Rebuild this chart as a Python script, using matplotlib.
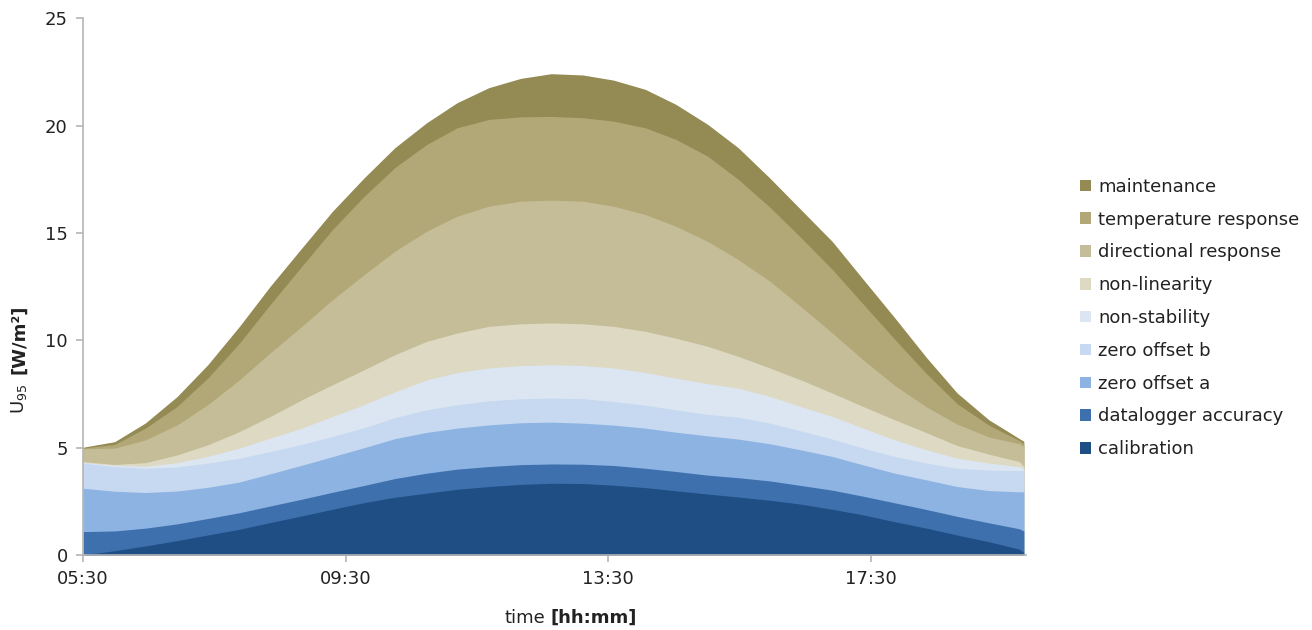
import numpy as np
import matplotlib
matplotlib.use('Agg')
import matplotlib.pyplot as plt
from matplotlib.patches import Patch

plt.rcParams['font.family'] = ['DejaVu Sans']

# sample clock times
clock = ['05:30', '05:59', '06:27', '06:56', '07:24', '07:53', '08:21', '08:50',
         '09:18', '09:47', '10:15', '10:44', '11:12', '11:41', '12:10', '12:38',
         '13:07', '13:35', '14:04', '14:32', '15:01', '15:29', '15:58', '16:26',
         '16:55', '17:23', '17:52', '18:21', '18:49', '19:18', '19:46', '19:50']

# upper edge of each stacked band, W/m2 (cumulative)
top_calibration = [0.0, 0.2, 0.42, 0.67, 0.93, 1.2, 1.51, 1.82, 2.13, 2.44, 2.69, 2.88, 3.06, 3.19, 3.29, 3.34,
                   3.33, 3.25, 3.14, 2.99, 2.84, 2.7, 2.55, 2.37, 2.13, 1.87, 1.55, 1.25, 0.93, 0.62, 0.27, 0.1]
top_datalogger = [1.09, 1.12, 1.25, 1.45, 1.7, 1.97, 2.28, 2.6, 2.92, 3.24, 3.56, 3.81, 4.0, 4.12, 4.21, 4.24,
                  4.23, 4.17, 4.04, 3.89, 3.72, 3.6, 3.45, 3.24, 3.02, 2.74, 2.43, 2.12, 1.8, 1.5, 1.22, 1.12]
top_zero_a = [3.11, 2.97, 2.91, 2.98, 3.15, 3.4, 3.78, 4.18, 4.58, 5.0, 5.42, 5.71, 5.91, 6.06, 6.16, 6.19,
              6.14, 6.05, 5.91, 5.72, 5.55, 5.4, 5.18, 4.9, 4.59, 4.2, 3.81, 3.5, 3.19, 3.0, 2.94, 2.95]
top_zero_b = [4.28, 4.12, 4.04, 4.1, 4.28, 4.51, 4.82, 5.15, 5.52, 5.93, 6.4, 6.76, 7.0, 7.18, 7.28, 7.31,
              7.28, 7.15, 6.98, 6.76, 6.55, 6.42, 6.14, 5.78, 5.4, 4.98, 4.59, 4.28, 4.04, 3.95, 3.93, 3.96]
top_non_stab = [4.31, 4.18, 4.13, 4.3, 4.59, 4.98, 5.44, 5.91, 6.45, 7.0, 7.6, 8.15, 8.5, 8.71, 8.82, 8.86,
                8.83, 8.71, 8.5, 8.24, 7.98, 7.77, 7.38, 6.92, 6.45, 5.91, 5.36, 4.9, 4.51, 4.28, 4.12, 4.03]
top_non_lin = [4.35, 4.22, 4.3, 4.66, 5.13, 5.75, 6.45, 7.23, 7.93, 8.63, 9.33, 9.95, 10.34, 10.65, 10.77, 10.81,
               10.77, 10.65, 10.42, 10.1, 9.72, 9.25, 8.71, 8.16, 7.54, 6.92, 6.3, 5.7, 5.1, 4.7, 4.35, 4.12]
top_directional = [4.95, 4.98, 5.36, 6.06, 7.0, 8.16, 9.41, 10.65, 11.89, 13.06, 14.15, 15.08, 15.78, 16.25, 16.48, 16.53,
                   16.48, 16.25, 15.86, 15.31, 14.61, 13.76, 12.75, 11.58, 10.34, 9.1, 7.9, 6.9, 6.1, 5.5, 5.18, 5.05]
top_temperature = [4.98, 5.15, 5.91, 6.92, 8.24, 9.87, 11.66, 13.45, 15.16, 16.71, 18.04, 19.12, 19.9, 20.29, 20.41, 20.43,
                   20.37, 20.21, 19.9, 19.36, 18.58, 17.5, 16.2, 14.8, 13.3, 11.7, 10.05, 8.45, 7.05, 6.05, 5.33, 5.18]
top_maintenance = [5.02, 5.28, 6.15, 7.38, 8.86, 10.65, 12.51, 14.3, 16.01, 17.57, 18.97, 20.13, 21.07, 21.77, 22.2, 22.42,
                   22.36, 22.12, 21.69, 20.99, 20.06, 18.97, 17.55, 16.1, 14.6, 12.85, 11.05, 9.2, 7.55, 6.3, 5.42, 5.3]

labels = ['calibration', 'datalogger accuracy', 'zero offset a', 'zero offset b', 'non-stability',
          'non-linearity', 'directional response', 'temperature response', 'maintenance']
colors = ['#1f4e85', '#3f70ae', '#8db3e2', '#c6d9f0', '#dce6f2',
          '#ddd9c3', '#c4bd97', '#b2a776', '#948a54']
tops = [top_calibration, top_datalogger, top_zero_a, top_zero_b, top_non_stab,
        top_non_lin, top_directional, top_temperature, top_maintenance]

start = 5 * 60 + 30
minutes = np.array([int(c[:2]) * 60 + int(c[3:]) - start for c in clock])

fig = plt.figure(figsize=(13.12, 6.3), dpi=100)
ax = fig.add_axes([83 / 1312, 75 / 630, (1026 - 83) / 1312, (555 - 18.3) / 630])

# fill each band from zero, top band first and lower bands on top of it
n = len(tops)
for i in range(n - 1, -1, -1):
    ax.fill_between(minutes, 0, tops[i], color=colors[i], linewidth=0, zorder=n - i)

ax.set_xlim(0, 862)
ax.set_ylim(0, 25)
ax.set_xticks([0, 240, 480, 720])
ax.set_xticklabels(['05:30', '09:30', '13:30', '17:30'])
ax.set_yticks([0, 5, 10, 15, 20, 25])

for s in ['top', 'right']:
    ax.spines[s].set_visible(False)
for s in ['left', 'bottom']:
    ax.spines[s].set_color('#b5b5b5')
    ax.spines[s].set_linewidth(1.2)
    ax.spines[s].set_zorder(20)
ax.tick_params(axis='both', colors='#b5b5b5', labelcolor='#222222', labelsize=13,
               length=5, width=1.2, pad=6)

# axis titles with bold unit part
fig.text(545 / 1312, 12 / 630, 'time', ha='right', va='center', fontsize=13, color='#222222')
fig.text(551 / 1312, 12 / 630, '[hh:mm]', ha='left', va='center', fontsize=13,
         fontweight='bold', color='#222222')
fig.text(19 / 1312, (630 - 384) / 630, r'U$_{95}$', rotation=90, ha='center', va='top',
         fontsize=13, color='#222222')
fig.text(19 / 1312, (630 - 374) / 630, '[W/m²]', rotation=90, ha='center', va='bottom',
         fontsize=13, fontweight='bold', color='#222222')

handles = [Patch(facecolor=colors[i], edgecolor='none', label=labels[i]) for i in range(n - 1, -1, -1)]
fig.legend(handles=handles, loc='center left', bbox_to_anchor=(1080 / 1312, (630 - 318) / 630),
           frameon=False, fontsize=13, handlelength=0.6, handleheight=0.6, handletextpad=0.4,
           labelspacing=0.82, borderpad=0, borderaxespad=0, labelcolor='#222222')

fig.savefig('out.png', dpi=100)
